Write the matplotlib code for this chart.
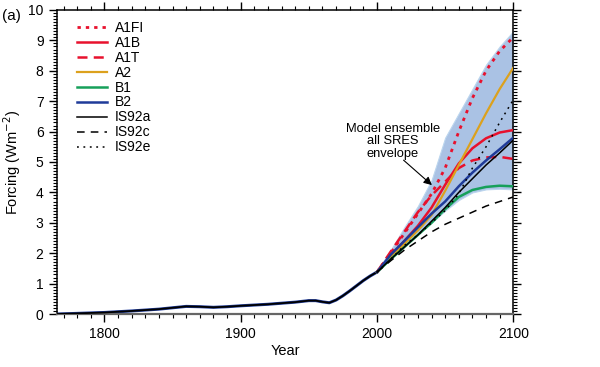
import matplotlib
matplotlib.use("Agg")
import matplotlib.pyplot as plt
from matplotlib.ticker import MultipleLocator

plt.rcParams['font.family'] = ['Liberation Sans', 'DejaVu Sans']

# historical forcing
hist_years = [1765, 1780, 1800, 1820, 1840, 1860, 1870, 1880, 1890, 1900, 1920, 1940,
              1950, 1955, 1960, 1965, 1970, 1975, 1980, 1985, 1990, 1995, 2000]
hist_vals = [0.0, 0.02, 0.05, 0.1, 0.16, 0.25, 0.24, 0.22, 0.24, 0.27, 0.32, 0.39,
             0.44, 0.44, 0.4, 0.37, 0.46, 0.6, 0.76, 0.93, 1.1, 1.25, 1.38]

# scenarios, decadal 2000-2100
years = [2000, 2010, 2020, 2030, 2040, 2050, 2060, 2070, 2080, 2090, 2100]
a1fi = [1.38, 2.0, 2.65, 3.3, 3.95, 4.8, 6.0, 7.1, 8.0, 8.65, 9.1]
a1b = [1.38, 1.9, 2.4, 2.9, 3.5, 4.25, 4.95, 5.45, 5.78, 5.97, 6.05]
a1t = [1.38, 2.05, 2.7, 3.35, 3.9, 4.35, 4.8, 5.05, 5.15, 5.17, 5.1]
a2 = [1.38, 1.85, 2.3, 2.75, 3.25, 4.05, 4.9, 5.75, 6.6, 7.4, 8.1]
b1 = [1.38, 1.8, 2.2, 2.6, 3.0, 3.45, 3.85, 4.08, 4.18, 4.22, 4.2]
b2 = [1.38, 1.95, 2.4, 2.85, 3.3, 3.7, 4.2, 4.65, 5.05, 5.42, 5.8]
is92a = [1.38, 1.8, 2.2, 2.6, 3.05, 3.5, 4.0, 4.45, 4.9, 5.3, 5.72]
is92c = [1.38, 1.75, 2.1, 2.4, 2.7, 2.95, 3.15, 3.35, 3.55, 3.7, 3.85]
is92e = [1.38, 1.8, 2.25, 2.6, 3.0, 3.4, 3.95, 4.8, 5.5, 6.3, 7.05]
env_lo = [1.35, 1.85, 2.3, 2.7, 3.0, 3.4, 3.75, 4.0, 4.1, 4.12, 4.1]
env_hi = [1.42, 2.1, 2.85, 3.55, 4.4, 5.8, 6.6, 7.4, 8.2, 8.8, 9.3]

fig = plt.figure(figsize=(6.0, 3.67), dpi=100)
ax = fig.add_axes([0.0945, 0.1444, 0.761, 0.8284])

ax.fill_between(years, env_lo, env_hi, color='#aac2e4', lw=0.8, edgecolor='#bcd6ee', zorder=1)

red = '#e8112d'
ax.plot(hist_years, hist_vals, color='#1f3b99', lw=2.2, zorder=2)
ax.plot(hist_years, hist_vals, color='black', lw=1.3, zorder=3)
ax.plot(years, a1fi, color=red, lw=2.0, ls=(0, (1.2, 1.8)), label='A1FI', zorder=4)
ax.plot(years, a1b, color=red, lw=1.8, label='A1B', zorder=4)
ax.plot(years, a1t, color=red, lw=1.8, ls=(0, (4, 2.5)), label='A1T', zorder=4)
ax.plot(years, a2, color='#dca11d', lw=1.6, label='A2', zorder=4)
ax.plot(years, b1, color='#16a05a', lw=1.8, label='B1', zorder=4)
ax.plot(years, b2, color='#1f3b99', lw=1.8, label='B2', zorder=4)
ax.plot(years, is92a, color='black', lw=1.1, label='IS92a', zorder=5)
ax.plot(years, is92c, color='black', lw=1.1, ls=(0, (5, 4)), label='IS92c', zorder=5)
ax.plot(years, is92e, color='black', lw=1.1, ls=(0, (1.2, 3)), label='IS92e', zorder=5)

ax.set_xlim(1765, 2100)
ax.set_ylim(0, 10)
ax.xaxis.set_major_locator(MultipleLocator(100))
ax.xaxis.set_minor_locator(MultipleLocator(10))
ax.yaxis.set_major_locator(MultipleLocator(1))
ax.yaxis.set_minor_locator(MultipleLocator(0.1))
ax.tick_params(which='both', direction='out', top=True, right=True, labelsize=10)
ax.tick_params(which='major', length=6, width=1)
ax.tick_params(which='minor', length=3, width=0.8)
for s in ax.spines.values():
    s.set_linewidth(1.1)
ax.spines['bottom'].set_color('#666666')
ax.spines['bottom'].set_linewidth(1.6)

ax.set_xlabel('Year', fontsize=10.5, labelpad=2)
ax.set_ylabel('Forcing (Wm$^{-2}$)', fontsize=10.5, labelpad=4)

ax.legend(loc='upper left', bbox_to_anchor=(0.044, 0.965), frameon=False, fontsize=10,
          handlelength=2.2, handletextpad=0.55, labelspacing=0.07, borderaxespad=0,
          borderpad=0)

ax.text(2011.5, 5.68, 'Model ensemble\nall SRES\nenvelope', ha='center', va='center',
        fontsize=9.3, linespacing=1.05)
ax.annotate('', xy=(2040.3, 4.24), xytext=(2019.5, 5.06),
            arrowprops=dict(arrowstyle='-|>', color='black', lw=0.8, mutation_scale=12,
                            shrinkA=0, shrinkB=0))

fig.text(0.003, 0.975, '(a)', fontsize=11, va='top', ha='left')

fig.savefig('out.png', dpi=100)
